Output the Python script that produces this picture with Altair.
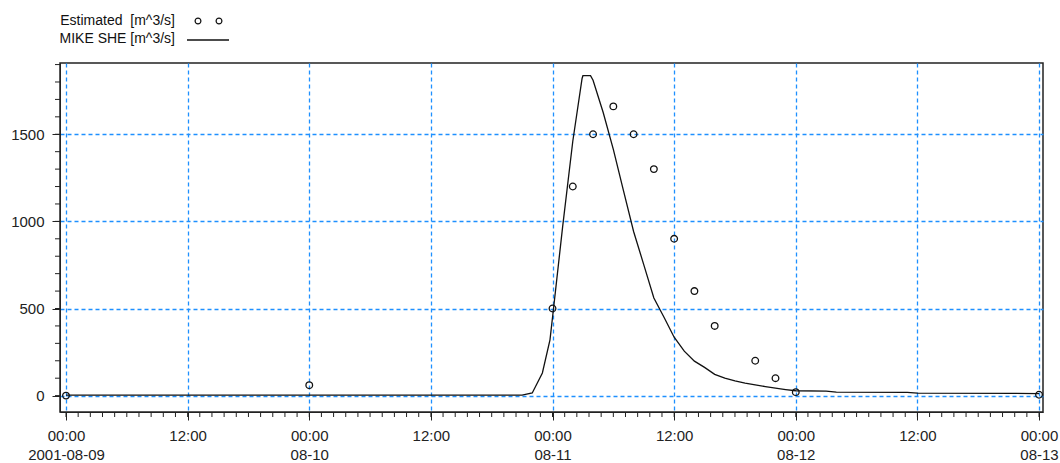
import altair as alt
import pandas as pd

# Estimated discharge (observations)
est_times = ["2001-08-09T00:00:00", "2001-08-10T00:00:00", "2001-08-11T00:00:00",
             "2001-08-11T02:00:00", "2001-08-11T04:00:00", "2001-08-11T06:00:00",
             "2001-08-11T08:00:00", "2001-08-11T10:00:00", "2001-08-11T12:00:00",
             "2001-08-11T14:00:00", "2001-08-11T16:00:00", "2001-08-11T20:00:00",
             "2001-08-11T22:00:00", "2001-08-12T00:00:00", "2001-08-13T00:00:00"]
est_values = [0, 60, 500, 1200, 1500, 1660, 1500, 1300, 900, 600, 400, 200, 100, 20, 5]

# MIKE SHE simulated discharge
sim_times = ["2001-08-09T00:00:00", "2001-08-10T21:00:00", "2001-08-10T22:00:00",
             "2001-08-10T23:00:00", "2001-08-10T23:45:00", "2001-08-11T00:06:00",
             "2001-08-11T01:00:00", "2001-08-11T02:00:00", "2001-08-11T02:55:00",
             "2001-08-11T03:00:00", "2001-08-11T03:45:00", "2001-08-11T04:00:00",
             "2001-08-11T05:00:00", "2001-08-11T06:00:00", "2001-08-11T07:00:00",
             "2001-08-11T08:00:00", "2001-08-11T09:00:00", "2001-08-11T10:00:00",
             "2001-08-11T11:00:00", "2001-08-11T12:00:00", "2001-08-11T13:00:00",
             "2001-08-11T14:00:00", "2001-08-11T15:00:00", "2001-08-11T16:00:00",
             "2001-08-11T17:00:00", "2001-08-11T18:00:00", "2001-08-11T19:00:00",
             "2001-08-11T20:00:00", "2001-08-11T21:00:00", "2001-08-11T22:00:00",
             "2001-08-11T23:00:00", "2001-08-12T00:00:00", "2001-08-12T03:00:00",
             "2001-08-12T04:00:00", "2001-08-12T11:00:00", "2001-08-12T12:00:00",
             "2001-08-13T00:00:00"]
sim_values = [3, 3, 15, 130, 320, 500, 970, 1460, 1820, 1836, 1836, 1810,
              1625, 1413, 1177, 942, 752, 560, 450, 335, 255, 198, 162, 122,
              100, 84, 72, 62, 52, 43, 35, 28, 26, 20, 19, 14, 12]

y_major = [0, 500, 1000, 1500]
y_minor = list(range(0, 2000, 100))

est = pd.DataFrame({"time": pd.to_datetime(est_times), "value": est_values})
sim = pd.DataFrame({"time": pd.to_datetime(sim_times), "value": sim_values})
x_major = pd.date_range("2001-08-09 00:00", "2001-08-13 00:00", freq="12h")
x_minor = pd.DataFrame({"time": pd.date_range("2001-08-09 00:00", "2001-08-13 00:00", freq="72min")})
y_minor_df = pd.DataFrame({"value": y_minor})

W, H = 983, 349
FONT = "Liberation Sans"

x_scale = alt.Scale(domain=[alt.DateTime(year=2001, month=8, date=8, hours=23, minutes=24, seconds=30),
                            alt.DateTime(year=2001, month=8, date=13, hours=0, minutes=23, seconds=30)])
y_scale = alt.Scale(domain=[-94, 1909], nice=False, zero=False)

x_axis = alt.Axis(
    title=None,
    values=[alt.DateTime(year=t.year, month=t.month, date=t.day, hours=t.hour) for t in x_major],
    labelExpr="hours(datum.value) == 12 ? '12:00' : (date(datum.value) == 9 ? ['00:00', '2001-08-09'] : ['00:00', timeFormat(datum.value, '%m-%d')])",
    tickSize=8, labelPadding=8, labelLineHeight=19, labelFontSize=15, labelFont=FONT,
    labelColor="#222", domainColor="#222", tickColor="#222",
    grid=True, gridColor="#1E90FF", gridDash=[4, 3], gridWidth=1.3, gridOpacity=1,
    labelFlush=False, labelOverlap=False,
)
y_axis = alt.Axis(
    title=None, values=y_major, format="d", tickSize=8, labelPadding=8, labelFontSize=15, labelFont=FONT,
    labelColor="#222", domainColor="#222", tickColor="#222",
    grid=True, gridColor="#1E90FF", gridDash=[4, 3], gridWidth=1.3, gridOpacity=1,
)

line = alt.Chart(sim).mark_line(color="#111", strokeWidth=1.3).encode(
    x=alt.X("time:T", scale=x_scale, axis=x_axis),
    y=alt.Y("value:Q", scale=y_scale, axis=y_axis),
)
points = alt.Chart(est).mark_point(shape="circle", filled=False, color="#111", size=44, strokeWidth=1.3, opacity=1).encode(
    x=alt.X("time:T", scale=x_scale),
    y=alt.Y("value:Q", scale=y_scale),
)
xminor = alt.Chart(x_minor).mark_rule(color="#222", strokeWidth=1).encode(
    x=alt.X("time:T", scale=x_scale),
    y=alt.value(H), y2=alt.value(H + 5),
)
yminor = alt.Chart(y_minor_df).mark_rule(color="#222", strokeWidth=1).encode(
    y=alt.Y("value:Q", scale=y_scale),
    x=alt.value(0), x2=alt.value(-5),
)

one = pd.DataFrame({"k": [0]})
leg_t1 = alt.Chart(one).mark_text(align="right", baseline="middle", font=FONT, fontSize=14, color="#111").encode(
    x=alt.value(115), y=alt.value(-42), text=alt.value("Estimated\u00a0\u00a0[m^3/s]"))
leg_t2 = alt.Chart(one).mark_text(align="right", baseline="middle", font=FONT, fontSize=14, color="#111").encode(
    x=alt.value(115), y=alt.value(-24), text=alt.value("MIKE SHE [m^3/s]"))
leg_c1 = alt.Chart(one).mark_point(shape="circle", filled=False, color="#111", size=34, strokeWidth=1.2, opacity=1).encode(
    x=alt.value(138), y=alt.value(-42))
leg_c2 = alt.Chart(one).mark_point(shape="circle", filled=False, color="#111", size=34, strokeWidth=1.2, opacity=1).encode(
    x=alt.value(159), y=alt.value(-42))
leg_l = alt.Chart(one).mark_rule(color="#111", strokeWidth=1.3).encode(
    x=alt.value(127), x2=alt.value(169), y=alt.value(-23))

chart = alt.layer(xminor, yminor, line, points, leg_t1, leg_t2, leg_c1, leg_c2, leg_l).properties(
    width=W, height=H,
    autosize=alt.AutoSizeParams(type="none"),
    padding={"left": 60, "top": 63, "right": 17, "bottom": 51},
    background="white",
).configure_view(stroke="#222", strokeWidth=1.5)

chart.save("out.html", embed_options={"renderer": "svg", "actions": False})
